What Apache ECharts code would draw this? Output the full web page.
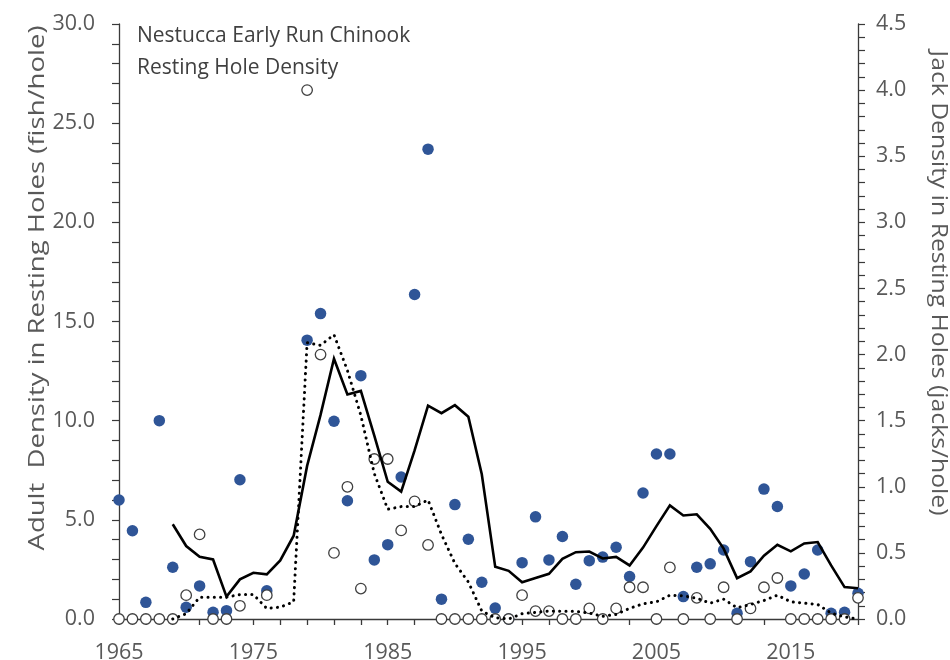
<!DOCTYPE html>
<html>
<head>
<meta charset="utf-8">
<title>Nestucca Early Run Chinook – Resting Hole Density</title>
<script src="https://cdn.jsdelivr.net/npm/echarts@6/dist/echarts.min.js"></script>
<style>
  html, body { margin: 0; padding: 0; background: #fff; }
  #chart { width: 950px; height: 660px; }
</style>
</head>
<body>
<div id="chart"></div>
<script>
// Adult density (fish/hole), survey years with data
const adultYears = [1965, 1966, 1967, 1968, 1969, 1970, 1971, 1972, 1973, 1974, 1976,
  1979, 1980, 1981, 1982, 1983, 1984, 1985, 1986, 1987, 1988, 1989, 1990, 1991, 1992,
  1993, 1994, 1995, 1996, 1997, 1998, 1999, 2000, 2001, 2002, 2003, 2004, 2005, 2006,
  2007, 2008, 2009, 2010, 2011, 2012, 2013, 2014, 2015, 2016, 2017, 2018, 2019, 2020];
const adultDensity = [6.0, 4.45, 0.84, 10.0, 2.61, 0.59, 1.67, 0.34, 0.42, 7.02, 1.42,
  14.06, 15.4, 9.97, 5.96, 12.27, 2.98, 3.75, 7.16, 16.36, 23.69, 1.0, 5.77, 4.02, 1.85,
  0.55, 0.0, 2.84, 5.15, 2.98, 4.16, 1.75, 2.94, 3.12, 3.62, 2.14, 6.35, 8.32, 8.32,
  1.13, 2.61, 2.78, 3.48, 0.29, 2.89, 6.55, 5.67, 1.67, 2.27, 3.48, 0.29, 0.34, 1.30];

// Jack density (jacks/hole), same survey years
const jackYears = adultYears;
const jackDensity = [0, 0, 0, 0, 0, 0.18, 0.64, 0, 0, 0.10, 0.18,
  4.0, 2.0, 0.50, 1.0, 0.23, 1.21, 1.21, 0.67, 0.89, 0.56, 0, 0, 0, 0,
  0, 0, 0.18, 0.06, 0.06, 0, 0, 0.08, 0, 0.08, 0.24, 0.24, 0, 0.39,
  0, 0.16, 0, 0.24, 0, 0.08, 0.24, 0.31, 0, 0, 0, 0, 0, 0.16];

// Five-year running averages, 1969-2020
const avgYears = [1969, 1970, 1971, 1972, 1973, 1974, 1975, 1976, 1977, 1978, 1979,
  1980, 1981, 1982, 1983, 1984, 1985, 1986, 1987, 1988, 1989, 1990, 1991, 1992, 1993,
  1994, 1995, 1996, 1997, 1998, 1999, 2000, 2001, 2002, 2003, 2004, 2005, 2006, 2007,
  2008, 2009, 2010, 2011, 2012, 2013, 2014, 2015, 2016, 2017, 2018, 2019, 2020];
const adultAvg = [4.78, 3.68, 3.14, 3.0, 1.13, 2.0, 2.33, 2.25, 2.95, 4.2, 7.72,
  10.29, 13.12, 11.32, 11.5, 9.25, 6.92, 6.42, 8.5, 10.76, 10.38, 10.78, 10.2, 7.3, 2.63,
  2.43, 1.85, 2.07, 2.28, 3.03, 3.37, 3.4, 3.05, 3.13, 2.7, 3.6, 4.68, 5.73, 5.22,
  5.28, 4.55, 3.55, 2.06, 2.4, 3.19, 3.74, 3.41, 3.81, 3.88, 2.7, 1.61, 1.55];
const jackAvg = [0, 0.04, 0.165, 0.165, 0.165, 0.185, 0.185, 0.08, 0.09, 0.13, 2.09,
  2.07, 2.15, 1.88, 1.54, 1.1, 0.83, 0.85, 0.85, 0.9, 0.64, 0.42, 0.28, 0.06, 0.01,
  0, 0.04, 0.05, 0.06, 0.058, 0.058, 0.045, 0.02, 0.035, 0.08, 0.115, 0.13, 0.18, 0.175,
  0.157, 0.12, 0.15, 0.085, 0.11, 0.14, 0.18, 0.13, 0.12, 0.11, 0.045, 0.015, 0.0];

// Axis titles
const leftTitle = 'Adult  Density in Resting Holes (fish/hole)';
const rightTitle = 'Jack Density in Resting Holes (jacks/hole)';

// The x axis counts years from the first survey year so ticks fall on odd years
const BASE_YEAR = 1965;
const LAST_YEAR = 2020;
const pairs = (xs, ys) => xs.map((y, i) => [y - BASE_YEAR, ys[i]]);

const FONT = "'Segoe UI', 'Open Sans', 'Noto Sans', sans-serif";
const TEXT = '#595959';
const AXIS = '#3a3a3a';
const LABEL_SIZE = 21.5;

const chart = echarts.init(document.getElementById('chart'), null, { renderer: 'canvas' });

const yAxisBase = {
  type: 'value',
  splitLine: { show: false },
  axisLine: { show: true, lineStyle: { color: AXIS, width: 1.3 } },
  axisTick: { show: true, inside: false, length: 7, lineStyle: { color: AXIS, width: 1.2 } },
  minorTick: { show: true, splitNumber: 5, length: 7, lineStyle: { color: AXIS, width: 1.2 } }
};

chart.setOption({
  animation: false,
  backgroundColor: '#ffffff',
  title: {
    text: 'Nestucca Early Run Chinook\nResting Hole Density',
    left: 137,
    top: 20,
    padding: 0,
    textStyle: {
      fontFamily: FONT, fontSize: 21, fontWeight: 'normal',
      color: '#404040', lineHeight: 32
    }
  },
  graphic: [
    {
      type: 'text',
      x: 38, y: 288,
      rotation: Math.PI / 2,
      scaleX: 1.25,
      style: {
        text: leftTitle, fill: TEXT, font: `22px ${FONT}`,
        align: 'center', verticalAlign: 'middle'
      }
    },
    {
      type: 'text',
      x: 938, y: 283,
      rotation: -Math.PI / 2,
      scaleX: 1.15,
      style: {
        text: rightTitle, fill: TEXT, font: `${LABEL_SIZE}px ${FONT}`,
        align: 'center', verticalAlign: 'middle'
      }
    }
  ],
  grid: {
    left: 119, right: 92, top: 24, bottom: 41,
    containLabel: false,
    outerBoundsMode: 'none'
  },
  xAxis: {
    type: 'value',
    min: 0,
    max: LAST_YEAR - BASE_YEAR,
    interval: 2,
    splitLine: { show: false },
    axisLine: { show: true, onZero: false, lineStyle: { color: AXIS, width: 1.3 } },
    axisTick: { show: true, inside: false, length: 6, lineStyle: { color: AXIS, width: 1.3 } },
    axisLabel: {
      margin: 23,
      fontFamily: FONT, fontSize: LABEL_SIZE, color: TEXT,
      formatter: v => (v % 10 === 0 ? String(v + BASE_YEAR) : '')
    }
  },
  yAxis: [
    Object.assign({}, yAxisBase, {
      position: 'left',
      min: 0, max: 30, interval: 5,
      axisLabel: {
        margin: 24,
        fontFamily: FONT, fontSize: LABEL_SIZE, color: TEXT,
        formatter: v => v.toFixed(1)
      }
    }),
    Object.assign({}, yAxisBase, {
      position: 'right',
      min: 0, max: 4.5, interval: 0.5,
      axisLabel: {
        margin: 18,
        fontFamily: FONT, fontSize: LABEL_SIZE, color: TEXT,
        formatter: v => v.toFixed(1)
      }
    })
  ],
  series: [
    {
      name: 'Adults',
      type: 'scatter',
      yAxisIndex: 0,
      data: pairs(adultYears, adultDensity),
      symbol: 'circle',
      symbolSize: 11.5,
      clip: false,
      z: 2,
      itemStyle: { color: '#2F5597', opacity: 1 }
    },
    {
      name: 'Jacks',
      type: 'scatter',
      yAxisIndex: 1,
      data: pairs(jackYears, jackDensity),
      symbol: 'circle',
      symbolSize: 10.5,
      clip: false,
      z: 3,
      itemStyle: { color: '#ffffff', borderColor: '#404040', borderWidth: 1.3, opacity: 1 }
    },
    {
      name: 'Adult running average',
      type: 'line',
      yAxisIndex: 0,
      data: pairs(avgYears, adultAvg),
      showSymbol: false,
      symbol: 'none',
      clip: false,
      z: 4,
      lineStyle: { color: '#000000', width: 2.6, join: 'miter' }
    },
    {
      name: 'Jack running average',
      type: 'line',
      yAxisIndex: 1,
      data: pairs(avgYears, jackAvg),
      showSymbol: false,
      symbol: 'none',
      clip: false,
      z: 5,
      lineStyle: { color: '#000000', width: 3, type: [0.1, 6.2], cap: 'round' }
    }
  ]
});
</script>
</body>
</html>
